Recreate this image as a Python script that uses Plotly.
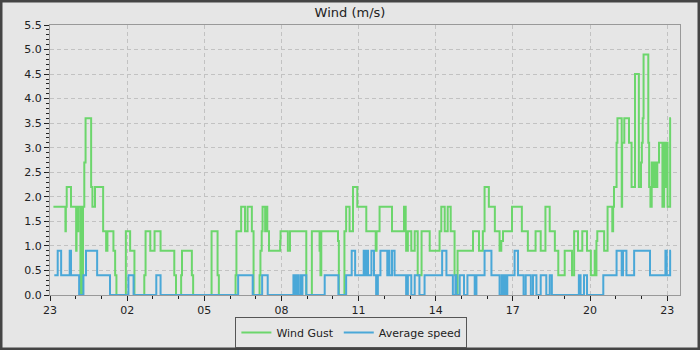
import datetime as dt
import plotly.graph_objects as go

# ---- data (change points of stepped series, clock time -> m/s) ----
gust_times = ["23:08","23:36","23:37","23:39","23:49","00:01","00:02","00:05","00:06","00:11",
              "00:12","00:15","00:17","00:20","00:23","00:36","00:39","00:45","01:04","01:11",
              "01:14","01:28","01:32","01:35","01:57","02:07","02:17","02:40","02:43","02:54",
              "03:04","03:18","03:50","03:54","04:06","04:08","04:31","04:34","05:17","05:31",
              "05:34","06:13","06:15","06:26","06:35","06:41","06:51","06:55","07:09","07:11",
              "07:14","07:16","07:22","07:23","07:27","07:31","07:57","07:58","08:15","08:20",
              "08:58","09:11","09:29","09:31","09:33","10:12","10:14","10:27","10:31","10:39",
              "10:47","10:57","11:18","11:40","11:42","11:49","12:18","12:46","12:50","12:51",
              "12:55","13:03","13:11","13:18","13:27","13:46","14:09","14:13","14:21","14:28",
              "14:35","14:44","14:48","14:51","15:27","15:41","15:50","15:54","16:04","16:18",
              "16:29","16:33","16:37","16:58","17:21","17:35","17:53","18:05","18:16","18:26",
              "18:38","18:46","19:01","19:18","19:23","19:32","19:42","19:53","20:02","20:11",
              "20:14","20:15","20:17","20:33","20:41","20:52","20:54","20:56","21:02","21:04",
              "21:14","21:15","21:20","21:31","21:37","21:45","21:54","21:59","22:01","22:03",
              "22:05","22:16","22:18","22:21","22:24","22:27","22:30","22:34","22:37","22:41",
              "22:49","22:53","22:56","22:58","23:01","23:07","23:09"]
gust_vals = [1.8,1.3,1.8,2.2,1.8,0.9,1.8,1.3,1.8,0,
             1.8,0,1.8,2.7,3.6,2.2,1.8,2.2,1.3,0.9,
             1.3,0.9,0.4,0,1.3,0.9,0,0.4,1.3,0.9,
             1.3,0.9,0.4,0,0.4,0.9,0.4,0,1.3,0.4,
             0,0.4,1.3,1.8,1.3,1.8,1.3,0,0.4,0.9,
             1.3,1.8,1.3,1.8,1.3,0.9,1.1,1.3,0.9,1.3,
             0,1.3,0.9,0.4,1.3,1.1,0,1.3,1.8,1.3,
             2.2,1.8,1.3,0.9,1.3,1.8,1.3,1.8,1.3,0.9,
             1.3,0.9,1.3,0.4,1.3,0.9,1.3,1.8,1.3,1.8,
             1.3,0.4,0,0.9,1.3,0.9,1.3,2.2,1.8,1.3,
             0.9,1.1,1.3,1.8,1.3,0.9,1.3,0.9,1.8,1.3,
             0.9,0.4,0.9,0.4,1.3,0.9,1.3,0.9,0.4,0.9,
             0.4,1.1,1.3,0.9,1.8,1.3,1.8,2.2,3.1,3.6,
             1.8,3.1,3.6,3.1,2.2,4.5,2.2,2.7,3.1,3.6,
             4.9,3.1,2.2,1.8,2.7,2.2,2.7,2.2,2.7,3.1,
             1.8,3.1,2.2,3.1,1.8,3.6,3.6]

avg_times = ["23:10","23:18","23:26","23:46","23:49","00:08","00:18","00:24","00:50","01:20",
             "02:03","02:15","03:08","03:18","06:19","06:53","07:15","07:28","08:28","08:32",
             "08:36","08:39","08:44","08:47","08:49","08:58","09:41","10:13","10:31","10:44",
             "10:52","11:12","11:16","11:19","11:22","11:30","11:36","11:41","11:45","11:51",
             "12:07","12:10","12:12","12:18","12:24","12:51","12:55","13:03","13:11","13:22",
             "13:34","14:15","14:25","14:40","14:46","14:48","14:56","15:06","15:14","15:31",
             "15:35","15:54","16:10","16:29","16:34","16:38","16:42","16:46","16:47","17:04",
             "17:12","17:25","17:30","17:42","17:47","17:55","18:05","18:18","18:26","18:31",
             "19:34","19:38","19:46","19:53","20:31","21:02","21:14","21:17","21:25","21:43",
             "22:20","22:56","22:59","23:07","23:09"]
avg_vals = [0.4,0.9,0.4,0.9,0.4,0,0.4,0.9,0.4,0,
            0.4,0,0.4,0,0.4,0,0.4,0,0.4,0,
            0.4,0,0.4,0,0.4,0,0.4,0,0.4,0.9,
            0.4,0.9,0.4,0.9,0.4,0.9,0.4,0,0.4,0.9,
            0.4,0.9,0.4,0.9,0.4,0,0.4,0,0.4,0,
            0.4,0.9,0.4,0,0.4,0,0.4,0,0.4,0,
            0.4,0.9,0.4,0,0.4,0,0.4,0,0.4,0.9,
            0.4,0,0.4,0,0.4,0,0.4,0,0.4,0,
            0.4,0,0.4,0,0.4,0.9,0.4,0.9,0.4,0.9,
            0.4,0.9,0.4,0.9,0.9]

series_names = ["Wind Gust", "Average speed"]
title_text = "Wind (m/s)"
start_day = dt.datetime(2024, 3, 9)


def to_datetimes(times):
    out, day, prev = [], 0, None
    for t in times:
        h, m = map(int, t.split(":"))
        if prev is not None and h < prev:
            day += 1
        prev = h
        out.append(start_day + dt.timedelta(days=day, hours=h, minutes=m))
    return out


gx = to_datetimes(gust_times)
ax = to_datetimes(avg_times)

fig = go.Figure()
fig.add_trace(go.Scatter(x=gx, y=gust_vals, mode="lines", name=series_names[0],
                         line=dict(color="#6cd66c", width=2, shape="hv")))
fig.add_trace(go.Scatter(x=ax, y=avg_vals, mode="lines", name=series_names[1],
                         line=dict(color="#4aa8d8", width=2, shape="hv")))

x0 = start_day + dt.timedelta(hours=23)
x1 = x0 + dt.timedelta(hours=24, minutes=30)

font = "DejaVu Sans, Verdana, sans-serif"
fig.update_layout(
    width=700, height=350,
    margin=dict(l=50, r=20, t=25, b=55, autoexpand=False),
    paper_bgcolor="#e6e6e6", plot_bgcolor="#e6e6e6",
    font=dict(family=font, size=11, color="#222222"),
    title=dict(text=title_text, x=0.5, xref="container", xanchor="center",
               y=1 - 12 / 350, yref="container", yanchor="middle",
               font=dict(size=13, color="#222222")),
    showlegend=True,
    legend=dict(orientation="h", xref="container", yref="container",
                x=0.502, xanchor="center", y=0.006, yanchor="bottom",
                bgcolor="#e6e6e6", bordercolor="#555555", borderwidth=1,
                font=dict(size=11, color="#222222"), itemwidth=30,
                tracegroupgap=0),
    xaxis=dict(
        type="date", range=[x0, x1],
        tick0=x0, dtick=3 * 3600000, tickformat="%H",
        ticks="outside", ticklen=5, tickcolor="#222222",
        showline=True, linecolor="#999999", linewidth=1, mirror=True,
        showgrid=True, gridcolor="#c2c2c2", griddash="4px,3px", gridwidth=1,
        zeroline=False,
        minor=dict(dtick=3600000, ticks="outside", ticklen=3, tickcolor="#222222",
                   showgrid=False),
    ),
    yaxis=dict(
        range=[0, 5.5], dtick=0.5, tick0=0, tickformat=".1f",
        ticks="outside", ticklen=5, tickcolor="#222222",
        showline=True, linecolor="#999999", linewidth=1, mirror=True,
        showgrid=True, gridcolor="#c2c2c2", griddash="4px,3px", gridwidth=1,
        zeroline=False,
        minor=dict(dtick=0.1, ticks="outside", ticklen=3, tickcolor="#222222",
                   showgrid=False),
    ),
    shapes=[dict(type="rect", xref="paper", yref="paper",
                 x0=-50 / 630, x1=1 + 20 / 630, y0=-55 / 270, y1=1 + 25 / 270,
                 line=dict(color="#444444", width=5), fillcolor="rgba(0,0,0,0)",
                 layer="above")],
)

fig.write_html("out.html")
